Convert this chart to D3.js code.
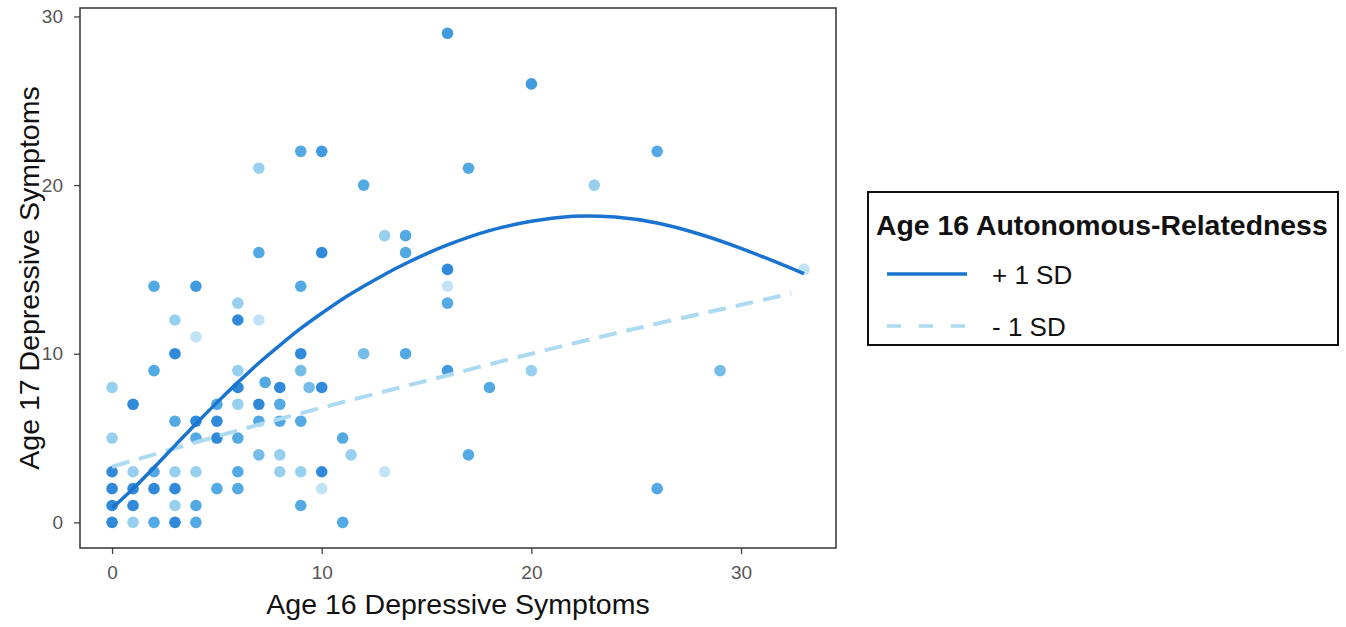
<!DOCTYPE html>
<html>
<head>
<meta charset="utf-8">
<script src="https://cdn.jsdelivr.net/npm/d3@7"></script>
<style>
  body { margin: 0; background: #fff; }
  text { font-family: "Liberation Sans", Arial, sans-serif; }
</style>
</head>
<body>
<div id="chart"></div>
<script>
// scatter points: age 16 score, age 17 score, shade of the moderator (1 light .. 4 dark)
var ptX = [0,1,2,3,4,11, 0,1,3,4,9, 0,1,2,3,5,6,10,26,
           0,1,2,3,4,6,8,9,10,13, 7,8,11.4,17, 0,4,5,6,11,
           3,4,5,7,8,9, 1,5,6,7,8, 0,6,7.3,8,9.4,10,18,
           2,6,9,16,20,29, 3,9,12,14, 4, 3,6,7, 6,16, 2,4,9,16,
           16,33, 7,10,14, 13,14, 12,23, 7,17, 9,10,26, 20, 16];
var ptY = [0,0,0,0,0,0, 1,1,1,1,1, 2,2,2,2,2,2,2,2,
           3,3,3,3,3,3,3,3,3,3, 4,4,4,4, 5,5,5,5,5,
           6,6,6,6,6,6, 7,7,7,7,7, 8,8,8.3,8,8,8,8,
           9,9,9,9,9,9, 10,10,10,10, 11, 12,12,12, 13,13, 14,14,14,14,
           15,15, 16,16,16, 17,17, 20,20, 21,21, 22,22,22, 26, 29];
var ptShade = [4,2,3,4,3,3, 4,4,2,3,3, 4,4,4,4,3,3,1,3,
               4,2,3,2,2,3,2,2,4,1, 2.5,2,2,3, 2,3,4,3,3,
               3,4,4,3,3,3, 4,3,2,4,3, 2,4,3,4,2.5,4,3,
               3,2,2.5,3.5,2,2.5, 4,4,2.5,3, 1, 2,4,1, 2,3, 3,3.5,3,1,
               4,1, 3,4,3, 2,3, 3,2, 2,3, 3,3.5,3, 3.5, 3.5];

// predicted lines
var hiX = [0,1,2,3,4,5,6,7,8,9,10,11,12,13,14,16,18,20,22,24,26,28,30,33];
var hiY = [0.85,2.0,3.25,4.55,5.85,7.1,8.3,9.45,10.5,11.5,12.4,13.25,14.0,14.7,15.35,16.45,17.3,17.85,18.15,18.1,17.75,17.1,16.25,14.75];
var loX = [0,5,10,15,20,25,30,32.4];
var loY = [3.3,5.1,6.8,8.4,10.0,11.5,12.9,13.57];

var xTicks = [0,10,20,30];
var yTicks = [0,10,20,30];
var legendTitle = "Age 16 Autonomous-Relatedness";
var legendLabels = ["+ 1 SD", "- 1 SD"];

var W = 1346, H = 627;
var panel = {left: 80, right: 836, top: 8, bottom: 548};

var svg = d3.select("#chart").append("svg")
    .attr("width", W).attr("height", H);

var x = d3.scaleLinear().domain([-1.53, 34.53]).range([panel.left, panel.right]);
var y = d3.scaleLinear().domain([-1.52, 30.5]).range([panel.bottom, panel.top]);
var shadeColor = d3.scaleLinear().domain([1, 2, 3, 4])
    .range(["#b9e1f4", "#8ccbec", "#40a0e0", "#1a7dd5"]);

var pts = ptX.map(function(d, i) { return {x: d, y: ptY[i], s: ptShade[i]}; });

svg.append("g").selectAll("circle")
    .data(pts)
    .enter().append("circle")
        .attr("cx", function(d) { return x(d.x); })
        .attr("cy", function(d) { return y(d.y); })
        .attr("r", 5.8)
        .attr("fill", function(d) { return shadeColor(d.s); })
        .attr("fill-opacity", 0.9);

var line = d3.line()
    .x(function(d) { return x(d[0]); })
    .y(function(d) { return y(d[1]); })
    .curve(d3.curveCatmullRom.alpha(0.5));

svg.append("path")
    .datum(loX.map(function(d, i) { return [d, loY[i]]; }))
    .attr("d", line)
    .attr("fill", "none")
    .attr("stroke", "#acdaf0")
    .attr("stroke-width", 4)
    .attr("stroke-dasharray", "18,10");

svg.append("path")
    .datum(hiX.map(function(d, i) { return [d, hiY[i]]; }))
    .attr("d", line)
    .attr("fill", "none")
    .attr("stroke", "#1a74cf")
    .attr("stroke-width", 3.5);

// axes
var xAxis = d3.axisBottom(x).tickValues(xTicks).tickSize(6).tickPadding(12);
var yAxis = d3.axisLeft(y).tickValues(yTicks).tickSize(6).tickPadding(11);

var gx = svg.append("g").attr("transform", "translate(0," + panel.bottom + ")").call(xAxis);
var gy = svg.append("g").attr("transform", "translate(" + panel.left + ",0)").call(yAxis);
[gx, gy].forEach(function(g) {
    g.select(".domain").remove();
    g.selectAll(".tick line").attr("stroke", "#444").attr("stroke-width", 1.3);
    g.selectAll(".tick text").attr("fill", "#555").style("font-size", "19px");
});

svg.append("rect")
    .attr("x", panel.left).attr("y", panel.top)
    .attr("width", panel.right - panel.left)
    .attr("height", panel.bottom - panel.top)
    .attr("fill", "none").attr("stroke", "#333").attr("stroke-width", 1.5);

svg.append("text")
    .attr("x", (panel.left + panel.right) / 2).attr("y", 614)
    .attr("text-anchor", "middle")
    .style("font-size", "28.5px").attr("fill", "#111")
    .text("Age 16 Depressive Symptoms");

svg.append("text")
    .attr("transform", "translate(39," + (panel.top + panel.bottom) / 2 + ") rotate(-90)")
    .attr("text-anchor", "middle")
    .style("font-size", "28.5px").attr("fill", "#111")
    .text("Age 17 Depressive Symptoms");

// legend
var lg = svg.append("g").attr("transform", "translate(868,192)");
lg.append("rect")
    .attr("width", 470).attr("height", 153)
    .attr("fill", "#fff").attr("stroke", "#111").attr("stroke-width", 2);
lg.append("text")
    .attr("x", 8).attr("y", 43)
    .style("font-size", "28.4px").style("font-weight", "bold").attr("fill", "#111")
    .text(legendTitle);

var keys = [{c: "#1a74cf", dash: null}, {c: "#acdaf0", dash: "14,18"}];
keys.forEach(function(k, i) {
    var ky = 82 + i * 52;
    lg.append("line")
        .attr("x1", 19).attr("x2", 99).attr("y1", ky).attr("y2", ky)
        .attr("stroke", k.c).attr("stroke-width", 3.5)
        .attr("stroke-dasharray", k.dash);
    lg.append("text")
        .attr("x", 124).attr("y", ky + 10)
        .style("font-size", "26px").attr("fill", "#111")
        .text(legendLabels[i]);
});
</script>
</body>
</html>
